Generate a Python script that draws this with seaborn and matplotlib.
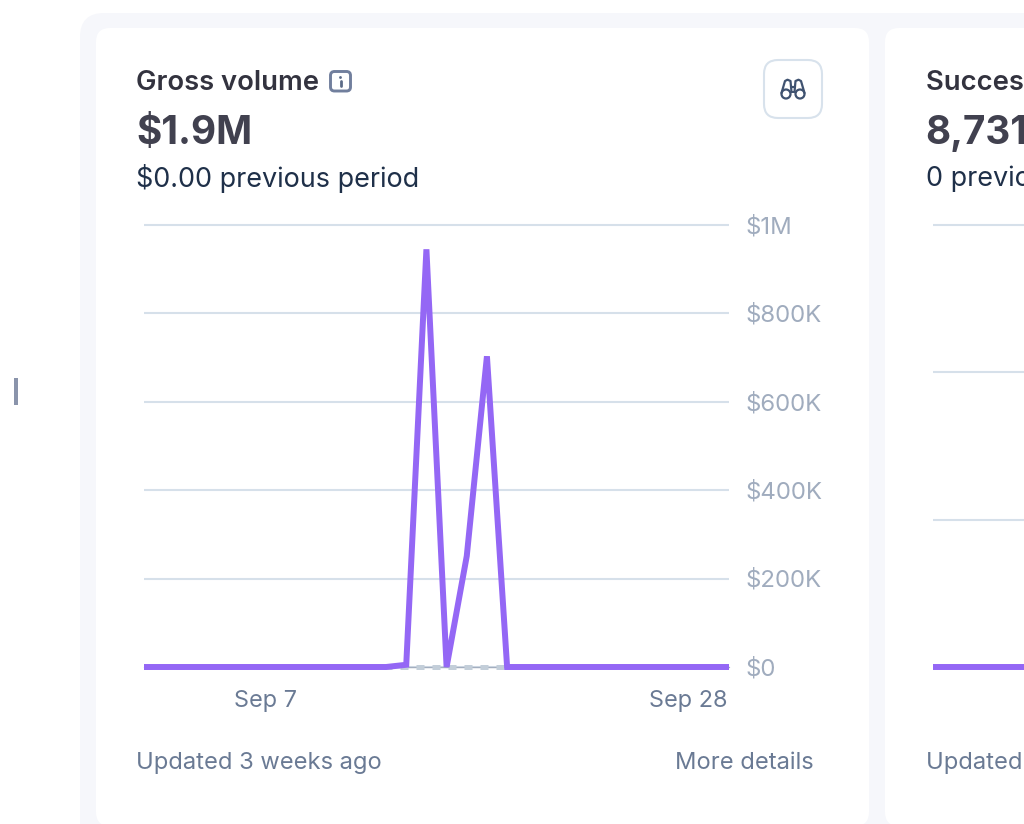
import numpy as np
import pandas as pd
import seaborn as sns
import matplotlib.pyplot as plt
import matplotlib.dates as mdates
from matplotlib.patches import FancyBboxPatch, Rectangle, Circle
from matplotlib.ticker import FixedLocator, FixedFormatter
from matplotlib.transforms import ScaledTranslation

days = pd.date_range("2024-09-01", periods=30, freq="D")
gross_volume = [0] * 13 + [5000, 945000, 0, 251000, 703000] + [0] * 12
previous_volume = [0] * 30
payments = [0] * 30
gross_ticks = [0, 200000, 400000, 600000, 800000, 1000000]
gross_tick_labels = ["$0", "$200K", "$400K", "$600K", "$800K", "$1M"]
payment_ticks = [0, 1, 2, 3]
date_ticks = ["2024-09-07", "2024-09-28"]
date_tick_labels = ["Sep 7", "Sep 28"]

W, H = 1024, 824
PURPLE = "#9467f5"
GRID = "#d6e0ea"
MUTED = "#a0acbe"
SLATE = "#6a7a94"

sns.set_theme(style="white")
plt.rcParams["font.family"] = ["Inter", "DejaVu Sans"]

fig = plt.figure(figsize=(W / 100, H / 100), dpi=100, facecolor="white")

# Page layer in pixel coordinates: tray, cards, headings and icons
page = fig.add_axes([0, 0, 1, 1], zorder=0)
page.set_xlim(0, W)
page.set_ylim(H, 0)
page.axis("off")


def rounded(x0, y0, x1, y1, r, **kw):
    page.add_patch(FancyBboxPatch((x0 + r, y0 + r), x1 - x0 - 2 * r, y1 - y0 - 2 * r,
                                  boxstyle=f"round,pad={r},rounding_size={r}", **kw))


rounded(80, 13, 1100, 900, 24, fc="#f6f7fb", ec="none")
rounded(96, 28, 869, 826, 14, fc="white", ec="none")
rounded(885, 28, 1100, 826, 14, fc="white", ec="none")
page.add_patch(Rectangle((14, 378), 4, 27, fc="#8a94ab", ec="none"))


def px_text(x, y, s, size, color, weight="normal", ha="left"):
    page.text(x, y, s, fontsize=size * 0.72, color=color, fontweight=weight,
              ha=ha, va="center", clip_on=True)


for left, heading, total, previous in [
    (136.5, "Gross volume", "$1.9M", "$0.00 previous period"),
    (925.5, "Successful payments", "8,731", "0 previous period"),
]:
    px_text(left, 83, heading, 27.4, "#33333f", "semibold")
    px_text(left, 133, total, 38.7, "#41414f", "bold")
    px_text(left, 178.5, previous, 27, "#1f3049")
    px_text(left, 763, "Updated 3 weeks ago", 23.7, SLATE)
px_text(813.5, 763, "More details", 23.7, SLATE, ha="right")

# Info badge beside the heading
rounded(330.5, 71.5, 350.5, 91, 4, fc="white", ec="#717f9d", lw=2.1)
page.add_patch(Circle((340.5, 77.5), 1.4, fc="#5c6b88", ec="none"))
page.plot([340.5, 340.5], [81, 86], color="#5c6b88", lw=2, solid_capstyle="round")

# Binoculars button
rounded(764, 60, 822, 118, 14, fc="white", ec="#d8e2ec", lw=1.5)
ink = "#3f5270"
for cx in (786, 800):
    page.add_patch(Circle((cx, 94), 4.5, fc="none", ec=ink, lw=1.6))
page.plot([781.5, 785, 787.5, 790.5, 791.5], [93, 81, 79.7, 81, 92], color=ink, lw=1.6)
page.plot([794.5, 795.5, 798.5, 801, 804.5], [92, 81, 79.7, 81, 93], color=ink, lw=1.6)
page.plot([791, 795], [87, 87], color=ink, lw=1.6)
page.plot([790.5, 795.5], [91.5, 91.5], color=ink, lw=1.4)


def chart_axes(left):
    """Chart area spanning 585 px, from the top gridline at y=225 to the zero line at y=667."""
    ax = fig.add_axes([left / W, 1 - 667 / H, 585 / W, (667 - 225) / H], zorder=2)
    ax.patch.set_alpha(0)
    ax.set_xlim(days[0], days[-1])
    for side in ("top", "left", "right", "bottom"):
        ax.spines[side].set_visible(False)
    return ax


def finish_axes(ax):
    ax.set_xlabel("")
    ax.set_ylabel("")
    ax.yaxis.tick_right()
    ax.tick_params(axis="x", length=0, pad=16.3, labelsize=23.5 * 0.72, labelcolor=SLATE)
    ax.tick_params(axis="y", length=0, pad=11, labelsize=24 * 0.72, labelcolor=MUTED)
    ax.grid(axis="y", color=GRID, lw=1.5, zorder=0)
    ax.set_axisbelow(True)
    for line in ax.get_ygridlines():
        line.set_clip_on(False)
        line.set_solid_capstyle("butt")


# Gross volume card
ax1 = chart_axes(144)
ax1.axhline(0, color="#a3aebf", lw=1, zorder=2, clip_on=False)
sns.lineplot(x=days, y=previous_volume, ax=ax1, color="#c3ced9", lw=3.6,
             linestyle=(0, (1.6, 1.6)), clip_on=False, zorder=3)
sns.lineplot(x=days, y=gross_volume, ax=ax1, color=PURPLE, lw=4.3,
             clip_on=False, zorder=4, solid_joinstyle="miter", solid_capstyle="butt")
ax1.set_ylim(0, 1000000)
ax1.set_yticks(gross_ticks)
ax1.set_yticklabels(gross_tick_labels)
ax1.xaxis.set_major_locator(FixedLocator(mdates.date2num(pd.to_datetime(date_ticks)).tolist()))
ax1.xaxis.set_major_formatter(FixedFormatter(date_tick_labels))
finish_axes(ax1)
nudge = ScaledTranslation(0.8 / 100, 0.5 / 100, fig.dpi_scale_trans)
for label in ax1.get_yticklabels():
    label.set_transform(label.get_transform() + nudge)

# Successful payments card, running off the right edge
ax2 = chart_axes(933)
sns.lineplot(x=days, y=payments, ax=ax2, color=PURPLE, lw=4.3, clip_on=False, zorder=4,
             solid_capstyle="butt")
ax2.set_ylim(0, 3)
ax2.set_yticks(payment_ticks)
ax2.set_yticklabels([])
ax2.set_xticks([])
finish_axes(ax2)

fig.savefig("out.png", dpi=100)
